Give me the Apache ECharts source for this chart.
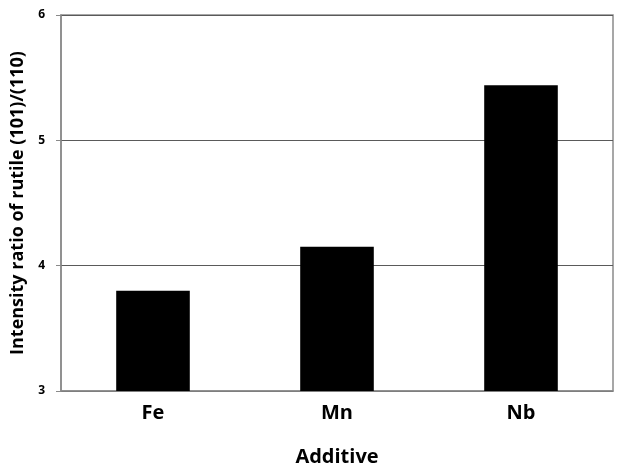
<!DOCTYPE html>
<html><head><meta charset="utf-8">
<script src="https://cdn.jsdelivr.net/npm/echarts@6/dist/echarts.min.js"></script>
<style>html,body{margin:0;padding:0;background:#fff}#c{width:618px;height:466px}</style>
</head><body><div id="c"></div>
<script>
const categories = ["Fe", "Mn", "Nb"];
const ratioValues = [3.80, 4.15, 5.44];
const yTicks = [3, 4, 5, 6];

const chart = echarts.init(document.getElementById('c'), null, {renderer: 'canvas'});
chart.setOption({
  animation: false,
  backgroundColor: '#fff',
  grid: {left: 61, right: 5, top: 15, bottom: 75, show: true, borderColor: '#8a8a8a', borderWidth: 1.5,
         containLabel: false, outerBoundsMode: 'none'},
  xAxis: {
    type: 'category', data: categories,
    name: 'Additive', nameLocation: 'middle', nameGap: 56,
    nameTextStyle: {fontFamily: 'Open Sans', fontWeight: 'bold', fontSize: 20, color: '#000'},
    axisLine: {lineStyle: {color: '#8a8a8a', width: 1.5}},
    axisTick: {show: false},
    axisLabel: {fontFamily: 'Open Sans', fontWeight: 'bold', fontSize: 20, color: '#000', margin: 12}
  },
  yAxis: {
    type: 'value', min: yTicks[0], max: yTicks[yTicks.length-1], interval: 1,
    name: 'Intensity ratio of rutile (101)/(110)', nameLocation: 'middle', nameGap: 30,
    nameTextStyle: {fontFamily: 'Open Sans', fontWeight: 'bold', fontSize: 18, color: '#000'},
    axisLine: {show: true, lineStyle: {color: '#8a8a8a', width: 1.5}},
    axisTick: {show: true, length: 5, lineStyle: {color: '#8a8a8a'}},
    axisLabel: {fontFamily: 'Open Sans', fontWeight: 'bold', fontSize: 12, color: '#000', margin: 16},
    splitLine: {lineStyle: {color: '#5a5a5a', width: 1}}
  },
  series: [{
    type: 'bar', data: ratioValues, barWidth: '40%',
    itemStyle: {color: '#000'}
  }]
});
</script></body></html>
